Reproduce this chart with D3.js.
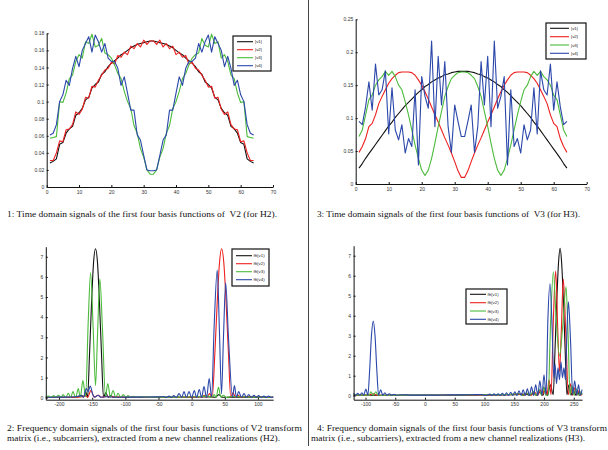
<!DOCTYPE html>
<html>
<head>
  <meta charset="utf-8"/>
  <title>Basis functions</title>
  <style>
    body { margin: 0; background: #fff; }
    svg { display: block; }
    .tick text { font-family: "Liberation Sans", Arial, sans-serif; font-size: 5px; fill: #333; }
    .cap { font-family: "Liberation Serif", "Times New Roman", serif; font-size: 9px; fill: #111; white-space: pre; }
    .leg { font-family: "Liberation Sans", Arial, sans-serif; font-size: 4.4px; fill: #222; }
  </style>
</head>
<body>
<div id="graph"></div>
<script src="https://cdn.jsdelivr.net/npm/d3@7/dist/d3.min.js"></script>
<script>
    // sample index of the time domain signals
    var n64 = [1,2,3,4,5,6,7,8,9,10,11,12,13,14,15,16,17,18,19,20,21,22,23,24,25,26,27,28,29,30,31,32,
               33,34,35,36,37,38,39,40,41,42,43,44,45,46,47,48,49,50,51,52,53,54,55,56,57,58,59,60,61,62,63,64];

    // |v1|..|v4| of V2 (H2)
    var t2v1 = [0.028,0.030,0.033,0.050,0.052,0.063,0.068,0.071,0.084,0.087,0.092,0.102,0.105,0.116,0.120,0.123,0.132,0.135,0.141,0.145,0.148,0.151,0.155,0.157,0.160,0.163,0.165,0.167,0.168,0.169,0.170,0.171,
                0.171,0.170,0.169,0.168,0.167,0.165,0.163,0.160,0.157,0.155,0.151,0.148,0.145,0.141,0.135,0.132,0.123,0.120,0.116,0.105,0.102,0.092,0.087,0.084,0.071,0.068,0.063,0.052,0.050,0.033,0.030,0.028];
    var t2v2 = [0.031,0.031,0.040,0.054,0.053,0.067,0.068,0.073,0.088,0.085,0.091,0.105,0.104,0.118,0.117,0.125,0.131,0.137,0.139,0.146,0.144,0.154,0.152,0.158,0.155,0.165,0.162,0.168,0.164,0.172,0.167,0.171,
                0.171,0.167,0.172,0.164,0.168,0.162,0.165,0.155,0.158,0.152,0.154,0.144,0.146,0.139,0.137,0.131,0.125,0.117,0.118,0.104,0.105,0.091,0.085,0.088,0.073,0.068,0.067,0.053,0.054,0.040,0.031,0.031];
    var t2v3 = [0.057,0.058,0.059,0.100,0.099,0.110,0.127,0.131,0.147,0.155,0.151,0.170,0.168,0.179,0.164,0.166,0.174,0.157,0.155,0.151,0.143,0.133,0.127,0.112,0.100,0.092,0.072,0.063,0.045,0.035,0.020,0.015,
                0.015,0.020,0.035,0.045,0.063,0.072,0.092,0.100,0.112,0.127,0.133,0.143,0.151,0.155,0.157,0.174,0.166,0.164,0.179,0.168,0.170,0.151,0.155,0.147,0.131,0.127,0.110,0.099,0.100,0.059,0.058,0.057];
    var t2v4 = [0.061,0.063,0.073,0.100,0.108,0.125,0.119,0.139,0.153,0.141,0.160,0.168,0.176,0.158,0.178,0.170,0.158,0.168,0.151,0.147,0.147,0.139,0.119,0.129,0.110,0.090,0.090,0.061,0.055,0.037,0.020,0.019,
                0.019,0.020,0.037,0.055,0.061,0.090,0.090,0.110,0.129,0.119,0.139,0.147,0.147,0.151,0.168,0.158,0.170,0.178,0.158,0.176,0.168,0.160,0.141,0.153,0.139,0.119,0.125,0.108,0.100,0.073,0.063,0.061];

    // |v1|..|v4| of V3 (H3)
    var t3v1 = [0.024,0.031,0.039,0.046,0.053,0.060,0.067,0.074,0.081,0.088,0.094,0.101,0.107,0.113,0.119,0.124,0.129,0.134,0.139,0.143,0.148,0.151,0.155,0.158,0.161,0.163,0.166,0.167,0.169,0.170,0.171,0.171,
                0.171,0.171,0.170,0.169,0.167,0.166,0.163,0.161,0.158,0.155,0.151,0.148,0.143,0.139,0.134,0.129,0.124,0.119,0.113,0.107,0.101,0.094,0.088,0.081,0.074,0.067,0.060,0.053,0.046,0.039,0.031,0.024];
    var t3v2 = [0.048,0.057,0.069,0.087,0.092,0.105,0.122,0.133,0.143,0.153,0.160,0.165,0.169,0.170,0.170,0.170,0.169,0.165,0.158,0.150,0.140,0.129,0.117,0.105,0.094,0.082,0.070,0.059,0.047,0.034,0.020,0.010,
                0.010,0.020,0.034,0.047,0.059,0.070,0.082,0.094,0.105,0.117,0.129,0.140,0.150,0.158,0.165,0.169,0.170,0.170,0.170,0.169,0.165,0.160,0.153,0.143,0.133,0.122,0.105,0.092,0.087,0.069,0.057,0.048];
    var t3v3 = [0.072,0.082,0.105,0.128,0.135,0.150,0.158,0.163,0.171,0.165,0.171,0.163,0.150,0.143,0.125,0.105,0.082,0.059,0.039,0.021,0.013,0.021,0.039,0.062,0.087,0.110,0.133,0.148,0.160,0.165,0.169,0.170,
                0.170,0.169,0.165,0.160,0.148,0.133,0.110,0.087,0.062,0.039,0.021,0.013,0.021,0.039,0.059,0.082,0.105,0.125,0.143,0.150,0.163,0.171,0.165,0.171,0.163,0.158,0.150,0.135,0.128,0.105,0.082,0.072];
    var t3v4 = [0.095,0.090,0.117,0.155,0.112,0.182,0.135,0.143,0.172,0.076,0.146,0.082,0.067,0.090,0.047,0.069,0.057,0.143,0.029,0.163,0.133,0.115,0.217,0.087,0.194,0.120,0.186,0.087,0.048,0.120,0.095,0.072,
                0.072,0.095,0.120,0.048,0.087,0.186,0.120,0.194,0.087,0.217,0.115,0.133,0.163,0.029,0.143,0.057,0.069,0.047,0.090,0.067,0.082,0.146,0.076,0.172,0.143,0.135,0.182,0.112,0.155,0.117,0.090,0.095];

    // fft(v1)..fft(v4) of V2, [subcarrier, magnitude]
    var f2v1 = [[-220,0.02],[-200,0.03],[-180,0.02],[-170,0.05],[-166,0.12],[-163,0.02],[-160,0.3],[-157,0.02],[-154,2.2],[-151,4.7],[-148,6.7],[-145,7.4],
                [-142,6.7],[-139,4.7],[-136,2.2],[-133,0.02],[-129.5,0.25],[-126,0.02],[-122,0.1],[-118,0.02],[-100,0.03],[-50,0.02],[0,0.03],[30,0.04],[36,0.02],
                [41,0.15],[46,0.02],[60,0.03],[123,0.02]];
    var f2v2 = [[-220,0.01],[-180,0.02],[-165,0.05],[-160,0.1],[-157,0.02],[-152,0.35],[-147,0.03],[-141,0.12],[-136,0.02],[-128,0.06],[-100,0.02],[-50,0.02],
                [0,0.03],[10,0.05],[15,0.02],[19,0.12],[23,0.02],[27,0.2],[31,0.02],[35,2.2],[38.5,4.7],[42,6.7],[45.2,7.4],[48.5,6.7],[52,4.7],[55.5,2.2],[59,0.02],
                [62.5,0.25],[66,0.02],[70,0.12],[74,0.02],[80,0.06],[100,0.03],[123,0.02]];
    var f2v3 = [[-220,0.04],[-216,0.08],[-212,0.01],[-208,0.1],[-205,0.01],[-201,0.12],[-197,0.01],[-194,0.15],[-190,0.01],[-186,0.22],[-182.5,0.01],[-179,0.3],
                [-175,0.01],[-171,0.45],[-168,0.02],[-164,0.85],[-160,0.05],[-156,3.8],[-152.4,6.2],[-148.5,3.4],[-145,0.6],[-142,3.1],[-138.5,5.9],[-134.5,3.4],
                [-130,0.05],[-126.5,0.7],[-122.5,0.02],[-118.5,0.35],[-114.5,0.01],[-111,0.22],[-107,0.01],[-103,0.15],[-99.5,0.01],[-96,0.1],[-92,0.01],[-88,0.07],
                [-84,0.01],[-80,0.05],[-60,0.03],[-20,0.03],[10,0.05],[25,0.08],[30,0.02],[34,0.15],[37,0.02],[40.5,0.52],[44,0.03],[48,0.12],[52,0.01],[60,0.06],
                [90,0.03],[123,0.02]];
    var f2v4 = [[-220,0.02],[-190,0.03],[-175,0.05],[-168,0.1],[-163,0.03],[-159,0.45],[-156,0.3],[-153,0.58],[-149,0.15],[-146,0.03],[-141,0.12],[-137,0.02],
                [-130,0.05],[-110,0.02],[-80,0.03],[-50,0.04],[-42,0.06],[-38,0.01],[-34,0.08],[-30.5,0.01],[-27,0.1],[-23,0.01],[-19,0.2],[-15,0.01],[-11.5,0.3],
                [-8,0.01],[-4,0.3],[0,0.01],[4,0.35],[7.5,0.01],[11.5,0.4],[15,0.01],[18.6,0.55],[22.5,0.01],[26.5,0.95],[30,0.03],[34,3.6],[38.6,6.34],[42,3.2],
                [45,0.2],[48,3.0],[51.3,5.71],[55.5,3.0],[61.7,0.03],[64.5,0.6],[67.5,0.02],[71,0.3],[75,0.02],[79,0.2],[82.5,0.02],[86,0.15],[90,0.01],[94,0.12],
                [97.5,0.01],[101,0.1],[105,0.01],[109,0.08],[112.5,0.01],[116,0.08],[120,0.01],[123,0.05]];

    // fft(v1)..fft(v4) of V3
    var f3v1 = [[-120,0.02],[-90,0.03],[-60,0.02],[0,0.02],[60,0.03],[120,0.04],[150,0.05],[170,0.08],[176,0.01],[182,0.12],[188,0.01],[193,0.18],[198,0.01],
                [202,0.3],[206,0.01],[210.5,0.55],[215.5,0.05],[218.5,2.3],[221.5,4.8],[224.5,6.7],[227,7.37],[229.5,6.7],[232.5,4.8],[235.5,2.3],[238.5,0.05],
                [242,0.55],[245.5,0.02],[249,0.35],[252.5,0.02],[256,0.25],[259.5,0.02],[264,0.15]];
    var f3v2 = [[-120,0.02],[-95,0.03],[-87,0.1],[-80,0.02],[-40,0.02],[40,0.03],[100,0.04],[140,0.05],[160,0.08],[166,0.01],[172,0.12],[178,0.01],[184,0.18],
                [189,0.01],[194,0.28],[197,0.01],[201.5,0.4],[205,0.02],[208.5,0.8],[211.8,0.05],[215.5,3.6],[219.6,6.23],[223,3.4],[226,1.2],[229,3.2],[232.4,5.83],
                [236.5,3.2],[240.9,0.05],[244.5,0.6],[248,0.02],[251.5,0.4],[255,0.02],[258.5,0.25],[262,0.02],[264,0.1]];
    var f3v3 = [[-120,0.04],[-100,0.03],[-94,0.02],[-91,0.2],[-87,0.03],[-82.5,0.2],[-79,0.02],[-60,0.03],[0,0.03],[60,0.04],[110,0.05],[140,0.06],[158,0.1],
                [164,0.01],[170,0.15],[176,0.01],[182,0.22],[187,0.01],[192,0.32],[196,0.01],[199.5,0.45],[203,0.02],[207,0.05],[211,3.6],[215.7,6.2],[220.5,3.8],
                [226,2.0],[231.5,3.5],[237,5.45],[240.5,3.0],[243.7,0.05],[247,0.5],[250.5,0.02],[254,0.35],[257.5,0.02],[261,0.2],[264,0.05]];
    var f3v4 = [[-120,0.12],[-117,0.02],[-113,0.12],[-110,0.02],[-106,0.15],[-103,0.02],[-99.5,0.33],[-96,0.03],[-93,1.3],[-90,3.0],[-87,3.73],[-84,3.0],
                [-81,1.3],[-78,0.03],[-74.5,0.3],[-71,0.02],[-67.5,0.15],[-64,0.02],[-60,0.1],[-56,0.02],[-52,0.07],[-48,0.02],[-40,0.05],[-20,0.03],[0,0.03],
                [20,0.03],[40,0.04],[60,0.04],[80,0.05],[95,0.06],[102,0.01],[109,0.08],[112.5,0.01],[116,0.09],[119.5,0.01],[123,0.1],[126.5,0.01],[130,0.12],
                [133.5,0.01],[137,0.14],[140.5,0.01],[144,0.17],[147.5,0.01],[151,0.2],[154.5,0.01],[158,0.25],[161.5,0.01],[165,0.3],[168.5,0.01],[172,0.35],
                [175.5,0.01],[179,0.45],[182.5,0.01],[186,0.55],[189.5,0.01],[193,0.75],[196.5,0.02],[200,1.05],[203.4,0.05],[206.5,3.8],[210,5.6],[213.5,3.5],
                [216.5,0.9],[218.5,1.6],[221,0.6],[223.5,1.4],[226,0.8],[228.5,1.7],[231,0.9],[233.5,1.4],[236,0.8],[238.5,3.2],[241,4.7],[244.5,2.8],[248.2,0.05],
                [251.5,0.75],[255,0.02],[258,0.55],[261,0.02],[264,0.3]];

    // tick values and labels
    var xTicksTime = [0,10,20,30,40,50,60,70];
    var yTicksV2 = [0,0.02,0.04,0.06,0.08,0.1,0.12,0.14,0.16,0.18];
    var yTicksV3 = [0,0.05,0.1,0.15,0.2,0.25];
    var xTicksF2 = [-200,-150,-100,-50,0,50,100];
    var xTicksF3 = [-100,-50,0,50,100,150,200,250];
    var yTicksF = [0,1,2,3,4,5,6,7];
    var labelsAbs = ["|v1|","|v2|","|v3|","|v4|"];
    var labelsFft = ["fft(v1)","fft(v2)","fft(v3)","fft(v4)"];
    var colors = ["#111111","#ee1f1f","#4cbb3c","#2b47aa"];

    var captions = [
      {x: 7,   y: 217, w: 270, t: "1: Time domain signals of the first four basis functions of  V2 (for H2)."},
      {x: 317, y: 217, w: 263, t: "3: Time domain signals of the first four basis functions of  V3 (for H3)."},
      {x: 7,   y: 431, w: 295, t: "2: Frequency domain signals of the first four basis functions of V2 transform"},
      {x: 7,   y: 441, w: 273, t: "matrix (i.e., subcarriers), extracted from a new channel realizations (H2)."},
      {x: 317, y: 431, w: 290, t: "4: Frequency domain signals of the first four basis functions of V3 transform"},
      {x: 311, y: 441, w: 274, t: "matrix (i.e., subcarriers), extracted from a new channel realizations (H3)."}
    ];

    var svg = d3.select("#graph").append("svg")
                .attr("width", 608)
                .attr("height", 450);

    function pairs(vals){ return n64.map(function(n,i){ return [n, vals[i]]; }); }

    function drawPanel(p){
      var x = d3.scaleLinear().domain(p.xDomain).range([p.left, p.right]);
      var y = d3.scaleLinear().domain(p.yDomain).range([p.bottom, p.top]);
      var line = d3.line()
          .x(function(d){ return x(d[0]); })
          .y(function(d){ return y(d[1]); })
          .curve(p.curve);

      p.series.forEach(function(s, i){
        svg.append("path")
           .datum(s)
           .attr("d", line)
           .attr("fill", "none")
           .attr("stroke", colors[i])
           .attr("stroke-width", 1.1)
           .attr("stroke-linejoin", "round");
      });

      var gx = svg.append("g")
          .attr("transform", "translate(0," + p.bottom + ")")
          .call(d3.axisBottom(x).tickValues(p.xTicks).tickSizeInner(-2).tickSizeOuter(0).tickPadding(3)
                .tickFormat(function(d){ return String(d); }));
      var gy = svg.append("g")
          .attr("transform", "translate(" + p.left + ",0)")
          .call(d3.axisLeft(y).tickValues(p.yTicks).tickSizeInner(-2).tickSizeOuter(0).tickPadding(2.5)
                .tickFormat(function(d){ return String(d); }));
      [gx, gy].forEach(function(g){
        g.select(".domain").attr("stroke", "#111").attr("stroke-width", 1);
        g.selectAll(".tick line").attr("stroke", "#111");
      });

      // legend
      var L = p.legend;
      svg.append("rect")
         .attr("x", L.x0).attr("y", L.y0)
         .attr("width", L.x1 - L.x0).attr("height", L.y1 - L.y0)
         .attr("fill", "#fff").attr("stroke", "#111").attr("stroke-width", 1.2);
      p.labels.forEach(function(lab, i){
        var yy = L.rows[i];
        svg.append("line")
           .attr("x1", L.lx0).attr("x2", L.lx1).attr("y1", yy).attr("y2", yy)
           .attr("stroke", colors[i]).attr("stroke-width", 1.1);
        svg.append("text").attr("class", "leg")
           .attr("x", L.tx).attr("y", yy).attr("dy", "0.35em")
           .text(lab);
      });
    }

    drawPanel({
      xDomain: [0, 70], yDomain: [0, 0.18], left: 46.7, right: 273, top: 33.3, bottom: 187,
      xTicks: xTicksTime, yTicks: yTicksV2, curve: d3.curveLinear,
      series: [pairs(t2v1), pairs(t2v2), pairs(t2v3), pairs(t2v4)], labels: labelsAbs,
      legend: {x0: 233, y0: 36, x1: 271, y1: 71, rows: [41.7, 49.7, 57.7, 65.7], lx0: 237, lx1: 253, tx: 255}
    });
    drawPanel({
      xDomain: [0, 70], yDomain: [0, 0.25], left: 355.7, right: 586.7, top: 19.3, bottom: 184,
      xTicks: xTicksTime, yTicks: yTicksV3, curve: d3.curveLinear,
      series: [pairs(t3v1), pairs(t3v2), pairs(t3v3), pairs(t3v4)], labels: labelsAbs,
      legend: {x0: 546, y0: 23, x1: 586, y1: 59, rows: [28.3, 36.7, 45, 53.3], lx0: 550, lx1: 569, tx: 571}
    });
    drawPanel({
      xDomain: [-220, 123], yDomain: [-0.1, 7.5], left: 45.8, right: 273.2, top: 246.7, bottom: 399.7,
      xTicks: xTicksF2, yTicks: yTicksF, curve: d3.curveMonotoneX,
      series: [f2v1, f2v2, f2v3, f2v4], labels: labelsFft,
      legend: {x0: 232, y0: 249, x1: 269, y1: 286, rows: [255.7, 263.7, 271.7, 279.7], lx0: 236, lx1: 252, tx: 253.5}
    });
    drawPanel({
      xDomain: [-120, 264], yDomain: [-0.2, 7.5], left: 353.6, right: 582.1, top: 245.7, bottom: 399.7,
      xTicks: xTicksF3, yTicks: yTicksF, curve: d3.curveMonotoneX,
      series: [f3v1, f3v2, f3v3, f3v4], labels: labelsFft,
      legend: {x0: 466, y0: 289, x1: 507, y1: 324, rows: [294.3, 302.7, 311, 319.3], lx0: 470, lx1: 486, tx: 487.5}
    });

    // divider between the two columns
    svg.append("line")
       .attr("x1", 308.5).attr("x2", 308.5).attr("y1", 0).attr("y2", 446)
       .attr("stroke", "#444").attr("stroke-width", 1);

    captions.forEach(function(c){
      svg.append("text").attr("class", "cap")
         .attr("x", c.x).attr("y", c.y)
         .attr("textLength", c.w).attr("lengthAdjust", "spacingAndGlyphs")
         .text(c.t);
    });
</script>
</body>
</html>
